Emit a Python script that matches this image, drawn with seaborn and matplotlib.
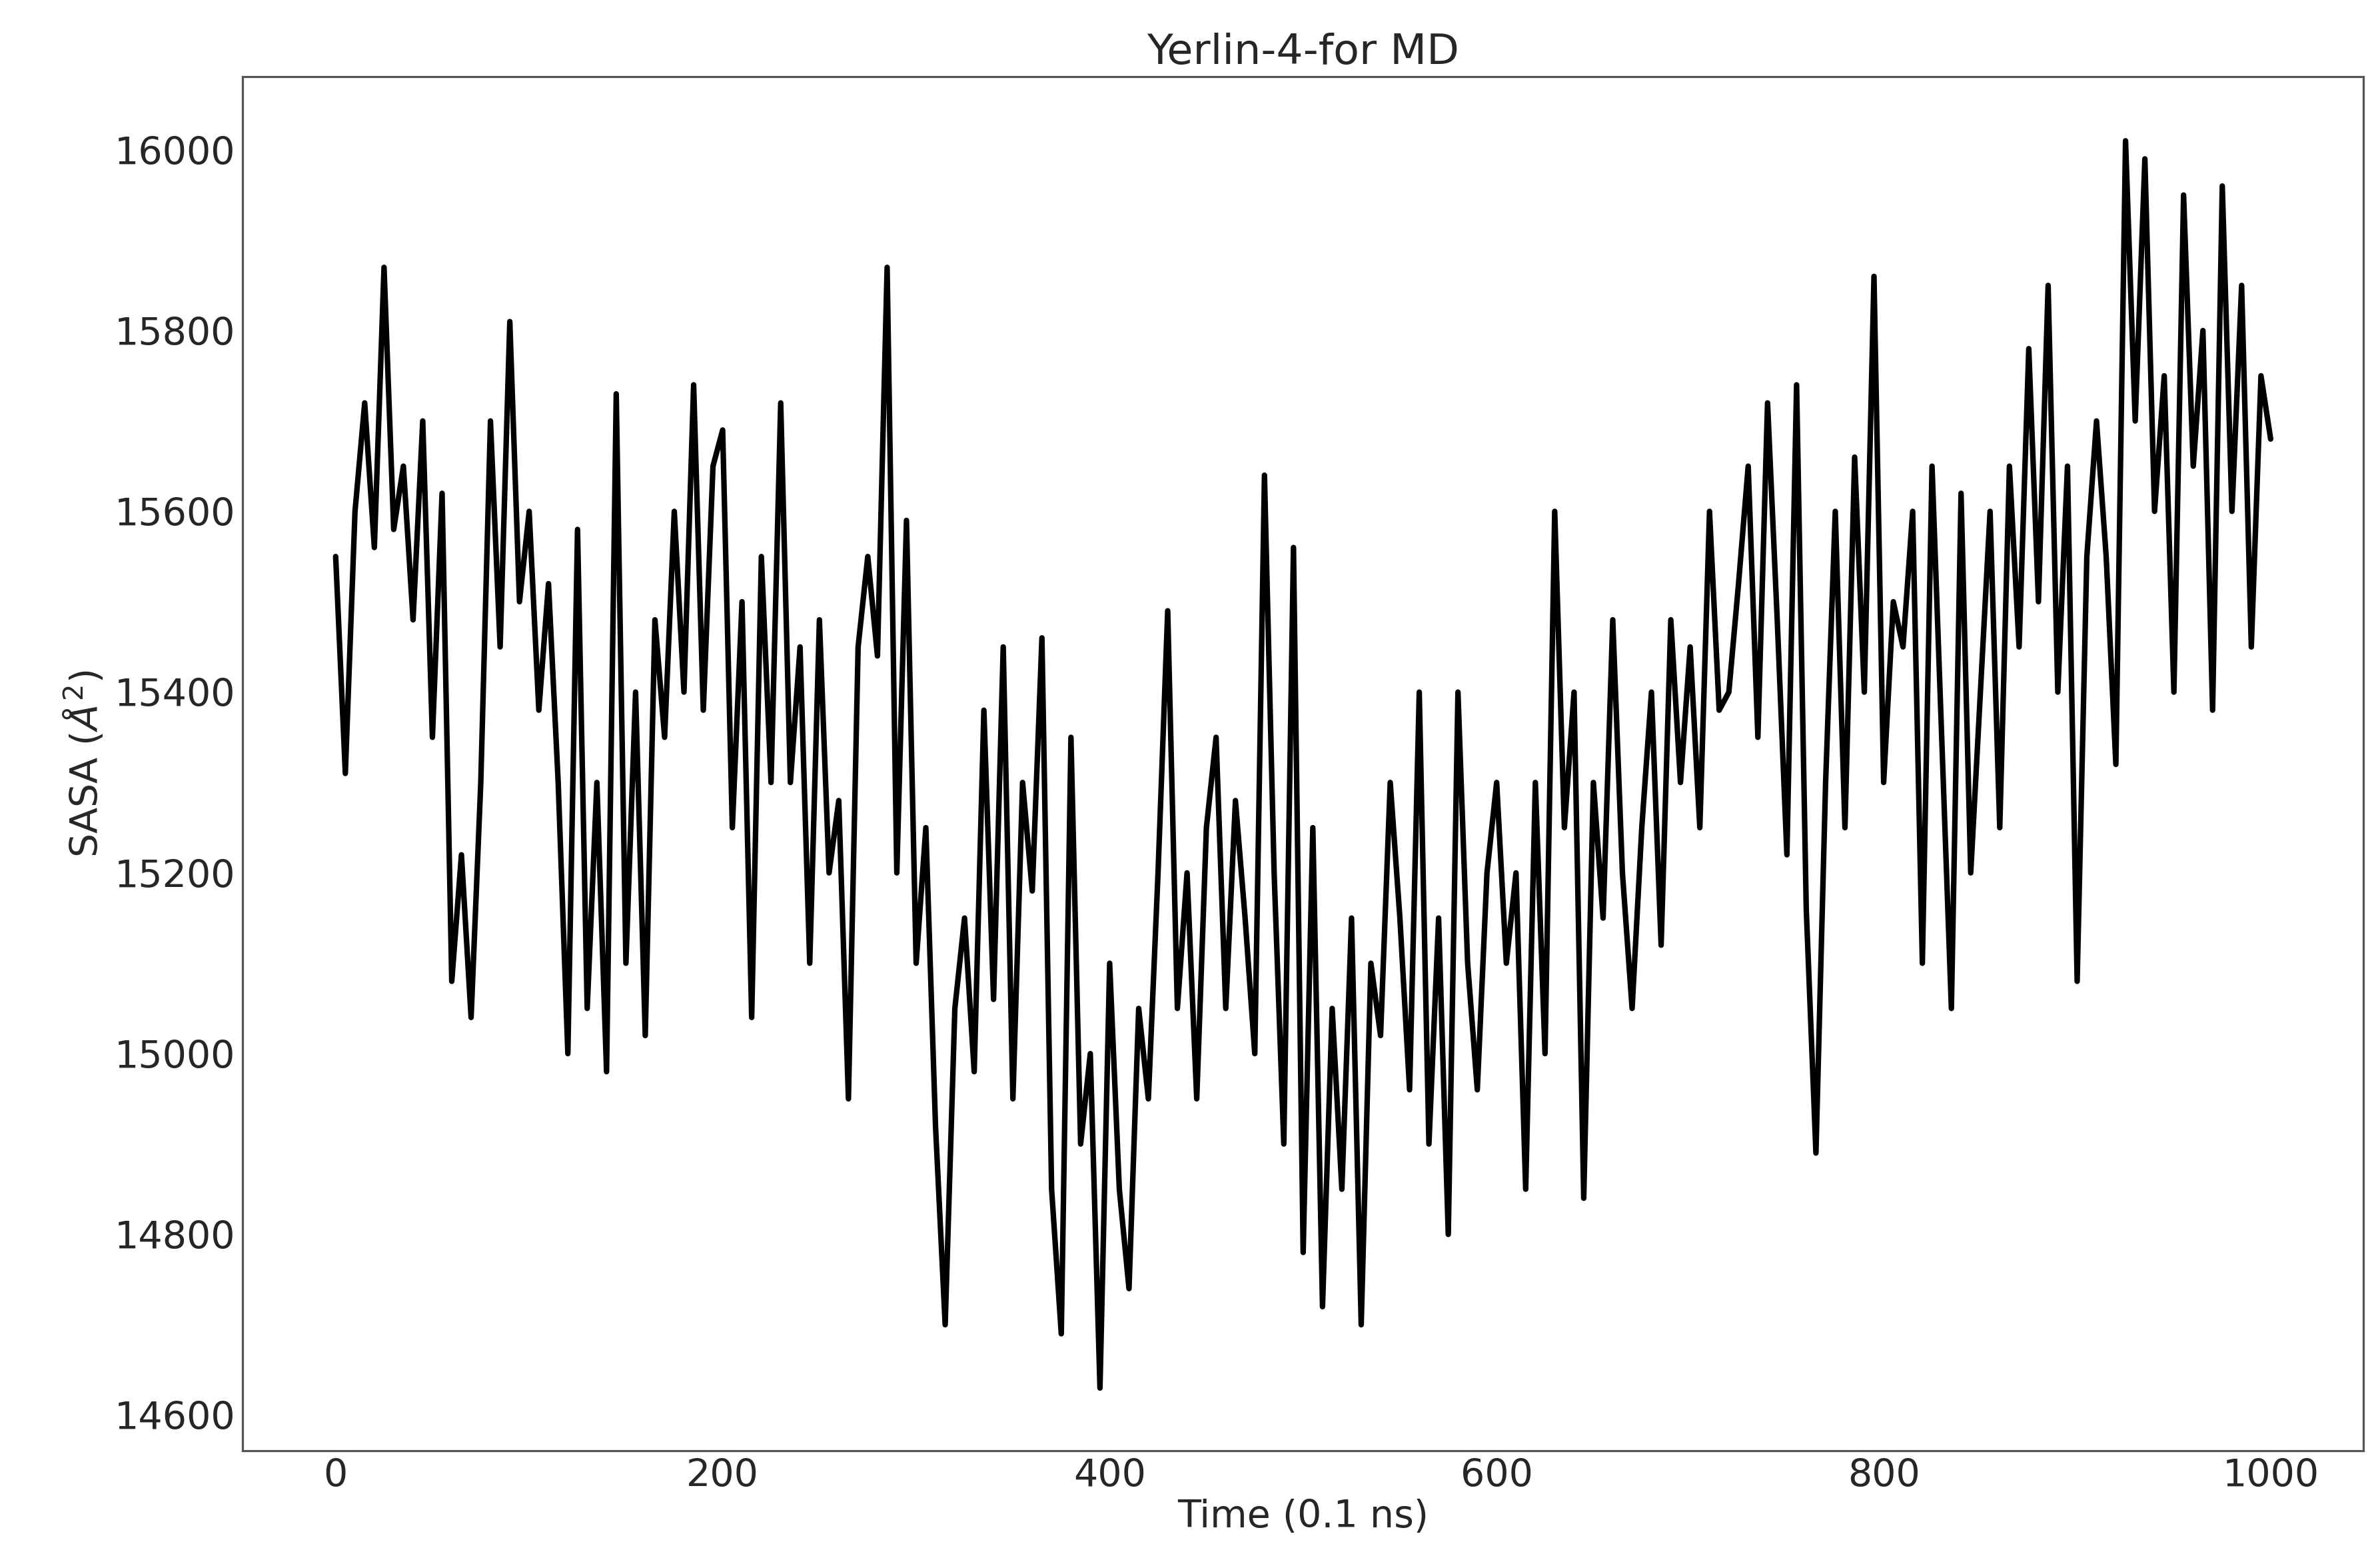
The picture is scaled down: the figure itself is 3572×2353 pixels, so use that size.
import matplotlib
matplotlib.use("Agg")
import matplotlib.pyplot as plt
import seaborn as sns
import numpy as np
import pandas as pd

time_step = 5
sasa = [
15550,15310,15600,15720,15560,15870,15580,15650,15480,15700,15350,15620,15080,15220,15040,15300,15700,15450,15810,15500,
15600,15380,15520,15300,15000,15580,15050,15300,14980,15730,15100,15400,15020,15480,15350,15600,15400,15740,15380,15650,
15690,15250,15500,15040,15550,15300,15720,15300,15450,15100,15480,15200,15280,14950,15450,15550,15440,15870,15200,15590,
15100,15250,14920,14700,15050,15150,14980,15380,15060,15450,14950,15300,15180,15460,14850,14690,15350,14900,15000,14630,
15100,14850,14740,15050,14950,15200,15490,15050,15200,14950,15250,15350,15050,15280,15150,15000,15640,15200,14900,15560,
14780,15250,14720,15050,14850,15150,14700,15100,15020,15300,15150,14960,15400,14900,15150,14800,15400,15100,14960,15200,
15300,15100,15200,14850,15300,15000,15600,15250,15400,14840,15300,15150,15480,15200,15050,15250,15400,15120,15480,15300,
15450,15250,15600,15380,15400,15520,15650,15350,15720,15480,15220,15740,15160,14890,15300,15600,15250,15660,15400,15860,
15300,15500,15450,15600,15100,15650,15350,15050,15620,15200,15400,15600,15250,15650,15450,15780,15500,15850,15400,15650,
15080,15550,15700,15550,15320,16010,15700,15990,15600,15750,15400,15950,15650,15800,15380,15960,15600,15850,15450,15750,
15680]
time = [i * time_step for i in range(len(sasa))]
yticks = [14600, 14800, 15000, 15200, 15400, 15600, 15800, 16000]
xticks = [0, 200, 400, 600, 800, 1000]

sns.set_style("white")
plt.rcParams['font.family'] = ['DejaVu Sans']
fig, ax = plt.subplots(figsize=(15.62, 10.29), dpi=228.7)
fig.subplots_adjust(left=0.102, right=0.993, top=0.951, bottom=0.075)
df = pd.DataFrame({"t": time, "s": sasa})
sns.lineplot(data=df, x="t", y="s", ax=ax, color="black", linewidth=2.6)
ax.set_xlim(-48, 1048)
ax.set_ylim(14561, 16081)
ax.set_xticks(xticks)
ax.set_yticks(yticks)
ax.tick_params(direction="in", labelsize=18, length=5, color="#333333")
ax.set_xlabel("Time (0.1 ns)", fontsize=18, labelpad=2)
ax.set_ylabel(r"SASA ($\AA^2$)", fontsize=18)
ax.set_title("Yerlin-4-for MD", fontsize=20, pad=6)
for s in ax.spines.values():
    s.set_color("#555555"); s.set_linewidth(1)
fig.savefig("out.png")
